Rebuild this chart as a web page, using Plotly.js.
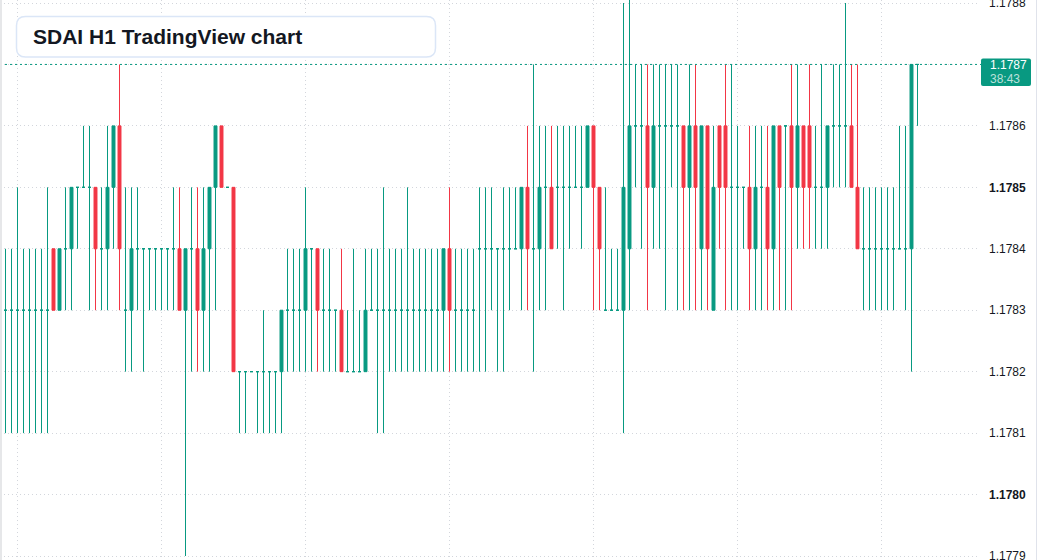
<!DOCTYPE html>
<html>
<head>
<meta charset="utf-8">
<script src="https://cdn.plot.ly/plotly-3.0.1.min.js"></script>
<style>
html,body{margin:0;padding:0;background:#ffffff;overflow:hidden}
#chart{width:1037px;height:560px;position:relative}
#lb{position:absolute;left:0;top:0;width:2px;height:560px;background:#e6e7e9}
#rb{position:absolute;left:1036px;top:0;width:1px;height:560px;background:#e0e3eb}
</style>
</head>
<body>
<div id="chart"></div><div id="lb"></div><div id="rb"></div>
<script>
// ---- data (SDAI H1, one candle per hour) ----
const open = [
1.1783,1.1783,1.1783,1.1783,1.1783,1.1783,1.1783,1.1783,
1.1784,1.1783,1.1784,1.1784,1.1785,1.1785,1.1785,1.1785,
1.1784,1.1784,1.1785,1.1786,1.1783,1.1783,1.1784,1.1784,
1.1784,1.1784,1.1784,1.1784,1.1784,1.1784,1.1783,1.1784,
1.1784,1.1783,1.1784,1.1785,1.1786,1.1785,1.1785,1.1782,
1.1782,1.1782,1.1782,1.1782,1.1782,1.1782,1.1782,1.1783,
1.1783,1.1783,1.1783,1.1784,1.1784,1.1783,1.1783,1.1783,
1.1783,1.1782,1.1782,1.1782,1.1782,1.1783,1.1783,1.1783,
1.1783,1.1783,1.1783,1.1783,1.1783,1.1783,1.1783,1.1783,
1.1783,1.1783,1.1784,1.1783,1.1783,1.1783,1.1783,1.1784,
1.1784,1.1784,1.1784,1.1784,1.1784,1.1784,1.1784,1.1785,
1.1784,1.1784,1.1785,1.1785,1.1785,1.1785,1.1785,1.1785,
1.1785,1.1785,1.1786,1.1785,1.1783,1.1783,1.1783,1.1783,
1.1784,1.1786,1.1786,1.1786,1.1785,1.1786,1.1786,1.1786,
1.1786,1.1786,1.1785,1.1786,1.1784,1.1786,1.1783,1.1786,
1.1786,1.1785,1.1785,1.1785,1.1785,1.1784,1.1785,1.1785,
1.1784,1.1786,1.1786,1.1786,1.1785,1.1786,1.1786,1.1785,
1.1785,1.1785,1.1786,1.1786,1.1786,1.1786,1.1785,1.1784,
1.1784,1.1784,1.1784,1.1784,1.1784,1.1784,1.1784,1.1784,
1.1787];
const high = [
1.1784,1.1784,1.1785,1.1784,1.1784,1.1784,1.1784,1.1785,
1.1784,1.1784,1.1785,1.1785,1.1785,1.1786,1.1786,1.1785,
1.1785,1.1786,1.1786,1.1787,1.1785,1.1785,1.1785,1.1784,
1.1784,1.1784,1.1784,1.1784,1.1785,1.1785,1.1784,1.1785,
1.1785,1.1785,1.1785,1.1786,1.1786,1.1785,1.1785,1.1782,
1.1782,1.1782,1.1782,1.1783,1.1782,1.1782,1.1783,1.1784,
1.1784,1.1784,1.1785,1.1784,1.1784,1.1784,1.1784,1.1783,
1.1784,1.1783,1.1784,1.1783,1.1784,1.1784,1.1784,1.1785,
1.1784,1.1784,1.1784,1.1785,1.1784,1.1784,1.1784,1.1784,
1.1784,1.1784,1.1785,1.1784,1.1784,1.1784,1.1784,1.1785,
1.1785,1.1785,1.1784,1.1785,1.1785,1.1785,1.1785,1.1786,
1.1787,1.1786,1.1786,1.1786,1.1786,1.1786,1.1786,1.1786,
1.1786,1.1786,1.1786,1.1785,1.1785,1.1784,1.1784,1.1788,
1.1789,1.1787,1.1787,1.1787,1.1787,1.1787,1.1787,1.1787,
1.1787,1.1786,1.1787,1.1787,1.1786,1.1786,1.1786,1.1786,
1.1787,1.1787,1.1786,1.1785,1.1786,1.1786,1.1786,1.1786,
1.1786,1.1786,1.1786,1.1787,1.1787,1.1786,1.1787,1.1786,
1.1787,1.1786,1.1787,1.1787,1.1788,1.1787,1.1787,1.1785,
1.1785,1.1785,1.1785,1.1785,1.1785,1.1786,1.1786,1.1787,
1.1787];
const low = [
1.1781,1.1781,1.1781,1.1781,1.1781,1.1781,1.1781,1.1781,
1.1783,1.1783,1.1783,1.1783,1.1784,1.1785,1.1783,1.1783,
1.1783,1.1783,1.1784,1.1783,1.1782,1.1782,1.1783,1.1782,
1.1783,1.1783,1.1783,1.1783,1.1783,1.1783,1.1779,1.1782,
1.1782,1.1782,1.1782,1.1783,1.1785,1.1785,1.1782,1.1781,
1.1781,1.1782,1.1781,1.1781,1.1781,1.1781,1.1781,1.1782,
1.1782,1.1782,1.1782,1.1782,1.1782,1.1782,1.1782,1.1782,
1.1782,1.1782,1.1782,1.1782,1.1782,1.1783,1.1781,1.1781,
1.1782,1.1782,1.1782,1.1782,1.1782,1.1782,1.1782,1.1782,
1.1782,1.1782,1.1782,1.1782,1.1782,1.1782,1.1782,1.1782,
1.1782,1.1783,1.1782,1.1782,1.1783,1.1784,1.1783,1.1783,
1.1782,1.1783,1.1783,1.1784,1.1784,1.1783,1.1784,1.1785,
1.1784,1.1785,1.1783,1.1783,1.1783,1.1783,1.1783,1.1781,
1.1783,1.1785,1.1784,1.1783,1.1784,1.1784,1.1783,1.1785,
1.1783,1.1783,1.1783,1.1783,1.1783,1.1783,1.1783,1.1784,
1.1783,1.1783,1.1783,1.1784,1.1783,1.1783,1.1783,1.1783,
1.1783,1.1783,1.1783,1.1783,1.1784,1.1784,1.1784,1.1784,
1.1784,1.1784,1.1785,1.1785,1.1785,1.1785,1.1784,1.1783,
1.1783,1.1783,1.1783,1.1783,1.1783,1.1784,1.1783,1.1782,
1.1786];
const close = [
1.1783,1.1783,1.1783,1.1783,1.1783,1.1783,1.1783,1.1783,
1.1783,1.1784,1.1784,1.1785,1.1785,1.1785,1.1785,1.1784,
1.1784,1.1785,1.1786,1.1784,1.1783,1.1784,1.1784,1.1784,
1.1784,1.1784,1.1784,1.1784,1.1784,1.1783,1.1784,1.1784,
1.1783,1.1784,1.1785,1.1786,1.1785,1.1785,1.1782,1.1782,
1.1782,1.1782,1.1782,1.1782,1.1782,1.1782,1.1783,1.1783,
1.1783,1.1783,1.1784,1.1784,1.1783,1.1783,1.1783,1.1783,
1.1782,1.1782,1.1782,1.1782,1.1783,1.1783,1.1783,1.1783,
1.1783,1.1783,1.1783,1.1783,1.1783,1.1783,1.1783,1.1783,
1.1783,1.1784,1.1783,1.1783,1.1783,1.1783,1.1783,1.1784,
1.1784,1.1784,1.1784,1.1784,1.1784,1.1784,1.1785,1.1784,
1.1784,1.1785,1.1785,1.1784,1.1785,1.1785,1.1785,1.1785,
1.1785,1.1786,1.1785,1.1784,1.1783,1.1783,1.1783,1.1785,
1.1786,1.1786,1.1786,1.1785,1.1786,1.1786,1.1786,1.1786,
1.1786,1.1785,1.1786,1.1785,1.1786,1.1784,1.1785,1.1785,
1.1785,1.1785,1.1785,1.1785,1.1784,1.1785,1.1785,1.1784,
1.1786,1.1785,1.1786,1.1785,1.1786,1.1785,1.1785,1.1785,
1.1785,1.1786,1.1786,1.1786,1.1786,1.1785,1.1784,1.1784,
1.1784,1.1784,1.1784,1.1784,1.1784,1.1784,1.1784,1.1787,
1.1787];

const yTickVals = [1.1779,1.1780,1.1781,1.1782,1.1783,1.1784,1.1785,1.1786,1.1787,1.1788];
const yTickText = ['1.1779','<b>1.1780</b>','1.1781','1.1782','1.1783','1.1784','<b>1.1785</b>','1.1786','','1.1788'];
const dayGridIdx = [2,26,50,74,98,122,146];
const lastPrice = 1.1787;
const lastPriceText = '1.1787';
const countdownText = '38:43';
const titleText = 'SDAI H1 TradingView chart';

// ---- style / geometry ----
const UP = '#089981', DOWN = '#F23645';
const W = 1037, H = 560, PR = 977;          // plot area right edge (px)
const X0PX = 5.5, STEP = 6;                // first candle centre, candle spacing (px)
const stepPx = 553 / 9;                    // px per 0.0001
const yr = [1.1779 - 4 / stepPx * 0.0001, 1.1788 + 3 / stepPx * 0.0001];
const xr = [-X0PX / STEP, (PR - X0PX) / STEP];
const px2x = p => p / PR;
const px2y = p => 1 - p / H;
const price2y = v => (v - yr[0]) / (yr[1] - yr[0]);

function roundRect(x0, y0, x1, y1, r) {
  const X = px2x, Y = px2y;
  return 'M' + X(x0 + r) + ',' + Y(y0) +
    ' L' + X(x1 - r) + ',' + Y(y0) + ' Q' + X(x1) + ',' + Y(y0) + ' ' + X(x1) + ',' + Y(y0 + r) +
    ' L' + X(x1) + ',' + Y(y1 - r) + ' Q' + X(x1) + ',' + Y(y1) + ' ' + X(x1 - r) + ',' + Y(y1) +
    ' L' + X(x0 + r) + ',' + Y(y1) + ' Q' + X(x0) + ',' + Y(y1) + ' ' + X(x0) + ',' + Y(y1 - r) +
    ' L' + X(x0) + ',' + Y(y0 + r) + ' Q' + X(x0) + ',' + Y(y0) + ' ' + X(x0 + r) + ',' + Y(y0) + ' Z';
}

const idx = open.map((_, i) => i);
const upIds = idx.filter(i => close[i] >= open[i]);
const dnIds = idx.filter(i => close[i] < open[i]);
const pick = (arr, ids) => ids.map(i => arr[i]);
function candleTrace(ids, color) {
  const style = {line: {color: color, width: 1}, fillcolor: color};
  return {
    type: 'candlestick', x: ids,
    open: pick(open, ids), high: pick(high, ids), low: pick(low, ids), close: pick(close, ids),
    increasing: style, decreasing: style, whiskerwidth: 0,
    hoverinfo: 'skip', showlegend: false
  };
}

const gridStyle = {showgrid: true, gridcolor: '#d3d6dc', griddash: '1px,3px', gridwidth: 1};

const layout = {
  width: W, height: H,
  margin: {l: 0, r: W - PR, t: 0, b: 0},
  paper_bgcolor: '#ffffff', plot_bgcolor: '#ffffff',
  showlegend: false, hovermode: false, boxgap: 0.3,
  xaxis: Object.assign({
    range: xr, tickvals: dayGridIdx, showticklabels: false, ticks: '',
    zeroline: false, showline: false, rangeslider: {visible: false}, fixedrange: true
  }, gridStyle),
  yaxis: Object.assign({
    side: 'right', range: yr, tickvals: yTickVals, ticktext: yTickText,
    tickfont: {family: 'Liberation Sans, Arial, sans-serif', size: 12, color: '#131722'},
    ticks: '', ticklabelstandoff: 11, ticklabeloverflow: 'allow',
    zeroline: false, showline: false, fixedrange: true
  }, gridStyle),
  shapes: [
    {type: 'line', xref: 'paper', yref: 'paper', x0: 0, x1: px2x(981),
     y0: price2y(lastPrice), y1: price2y(lastPrice),
     line: {color: UP, width: 1, dash: '2px,3px'}, layer: 'above'},
    {type: 'path', xref: 'paper', yref: 'paper', path: roundRect(16.5, 16.5, 435.5, 57, 9),
     fillcolor: '#ffffff', line: {color: '#dbe6f7', width: 1.5}, layer: 'above'},
    {type: 'path', xref: 'paper', yref: 'paper', path: roundRect(981, 58.5, 1031, 86, 2),
     fillcolor: UP, line: {color: UP, width: 0}, layer: 'above'}
  ],
  annotations: [
    {xref: 'paper', yref: 'paper', x: px2x(30.5), y: px2y(37), xanchor: 'left', yanchor: 'middle',
     text: '<b>' + titleText + '</b>', showarrow: false,
     font: {family: 'Liberation Sans, Arial, sans-serif', size: 21, color: '#131722'}},
    {xref: 'paper', yref: 'paper', x: px2x(988), y: px2y(65), xanchor: 'left', yanchor: 'middle',
     text: lastPriceText, showarrow: false,
     font: {family: 'Liberation Sans, Arial, sans-serif', size: 12, color: '#ffffff'}},
    {xref: 'paper', yref: 'paper', x: px2x(988), y: px2y(79), xanchor: 'left', yanchor: 'middle',
     text: countdownText, showarrow: false,
     font: {family: 'Liberation Sans, Arial, sans-serif', size: 12, color: 'rgba(255,255,255,0.72)'}}
  ]
};

Plotly.newPlot('chart', [candleTrace(upIds, UP), candleTrace(dnIds, DOWN)], layout,
  {staticPlot: true, displayModeBar: false});
</script>
</body>
</html>
